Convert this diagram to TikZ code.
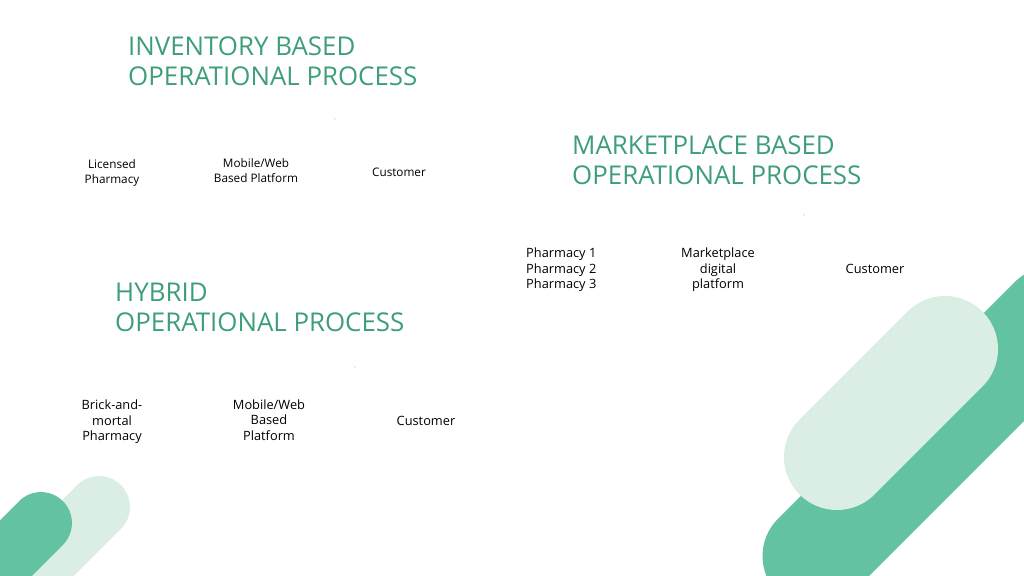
\documentclass[tikz,border=0pt]{standalone}
\usepackage{fontspec}
\setmainfont{Open Sans}
\definecolor{titlegreen}{RGB}{61,158,120}
\definecolor{pilldark}{RGB}{99,194,161}
\definecolor{pilllight}{RGB}{218,238,227}
\tikzset{
    headline/.style={anchor=north west, inner sep=0pt, align=left, text=titlegreen, font=\fontsize{24.25}{28.1}\selectfont},
    stagetext/.style={inner sep=0pt, align=center, font=\fontsize{12}{14.5}\selectfont},
    smallstage/.style={stagetext, font=\fontsize{11}{14}\selectfont},
    pill/.style={line cap=round},
    speck/.style={fill=black!30}
}
\begin{document}
\begin{tikzpicture}[x=0.9375pt, y=-0.9375pt]
    \useasboundingbox (0,0) rectangle (1024,576);
    \clip (0,0) rectangle (1024,576);
    % Decorative pills, bottom right
    \draw[pill, pilldark, line width=98.4pt] (815,556) -- (1052,319);
    \draw[pill, pilllight, line width=99.4pt] (837,457) -- (945,349);
    % Decorative pills, bottom left
    \draw[pill, pilllight, line width=58pt] (99,507) -- (-1,607);
    \draw[pill, pilldark, line width=58pt] (41,523) -- (-59,623);

    % Inventory based process
    \node[headline] (inv-title) at (128,37) {INVENTORY BASED\\OPERATIONAL PROCESS};
    \node[smallstage] (inv-pharmacy) at (112,172.5) {Licensed\\Pharmacy};
    \node[smallstage] (inv-platform) at (256,171) {Mobile/Web\\Based Platform};
    \node[smallstage] (inv-customer) at (399,172) {Customer};
    \fill[speck] (335,119) circle (0.6); % Leftover mark

    % Marketplace based process
    \node[headline] (mkt-title) at (572,136) {MARKETPLACE BASED\\OPERATIONAL PROCESS};
    \node[stagetext, align=left, anchor=west] (mkt-pharmacy) at (526,270) {Pharmacy 1\\Pharmacy 2\\Pharmacy 3};
    \node[stagetext] (mkt-platform) at (718,270) {Marketplace\\digital\\platform};
    \node[stagetext] (mkt-customer) at (875,269) {Customer};
    \fill[speck] (804,215) circle (0.6); % Leftover mark

    % Hybrid process
    \node[headline] (hyb-title) at (115,283) {HYBRID\\OPERATIONAL PROCESS};
    \node[stagetext] (hyb-pharmacy) at (112,422) {Brick-and-\\mortal\\Pharmacy};
    \node[stagetext] (hyb-platform) at (269,420) {Mobile/Web\\Based\\Platform};
    \node[stagetext] (hyb-customer) at (426,421) {Customer};
    \fill[speck] (355,367) circle (0.6); % Leftover mark
\end{tikzpicture}
\end{document}
